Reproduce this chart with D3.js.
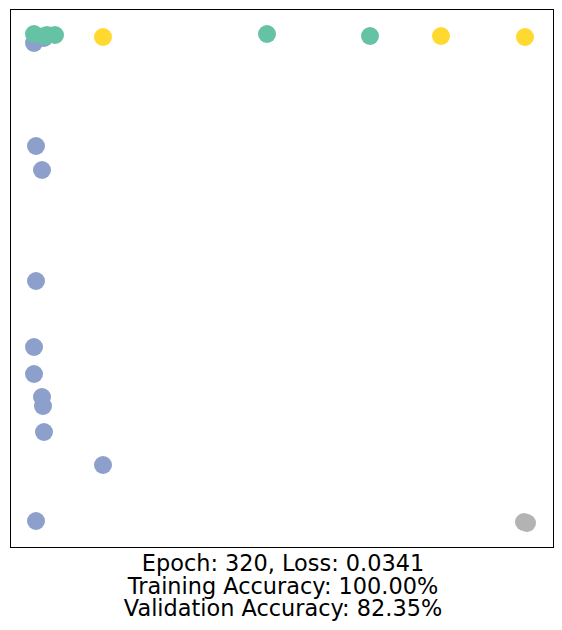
<!DOCTYPE html>
<html><head><meta charset="utf-8">
<script src="https://cdn.jsdelivr.net/npm/d3@7"></script>
<style>body{margin:0;background:#fff}</style></head>
<body><svg id="c" width="562" height="630"></svg>
<script>
const groups = ["blue","green","yellow","gray"];
const colors = ["#8da0cb","#66c2a5","#ffd92f","#b3b3b3"];
const blueX = [34,44,36,42,36,34,34,42,43,44,103,36];
const blueY = [42,37,145,169,280,346,373,396,405,431,464,520];
const greenX = [34,44,47,55,267,370];
const greenY = [33,35,34,34,33,35];
const yellowX = [103,441,525];
const yellowY = [36,35,36];
const grayX = [524,527];
const grayY = [521,522];
const titleLines = ["Epoch: 320, Loss: 0.0341","Training Accuracy: 100.00%","Validation Accuracy: 82.35%"];

const svg = d3.select("#c");
const x = d3.scaleLinear().domain([10,553]).range([10,553]);
const y = d3.scaleLinear().domain([9,547]).range([10,548]);
svg.append("rect").attr("x",10.5).attr("y",9.5).attr("width",543).attr("height",538)
  .attr("fill","none").attr("stroke","#000").attr("stroke-width",1);
const sets = [[blueX,blueY],[greenX,greenY],[yellowX,yellowY],[grayX,grayY]];
sets.forEach(([xs,ys],i)=>{
  svg.append("g").selectAll("circle").data(xs.map((v,j)=>[v,ys[j]])).join("circle")
    .attr("cx",d=>x(d[0])).attr("cy",d=>y(d[1])).attr("r",9).attr("fill",colors[i]);
});
svg.append("g").selectAll("text").data(titleLines).join("text")
  .attr("x",283).attr("y",(d,i)=>571+i*22.5).attr("text-anchor","middle")
  .attr("font-family","DejaVu Sans").attr("font-size",22.4).text(d=>d);
</script></body></html>
